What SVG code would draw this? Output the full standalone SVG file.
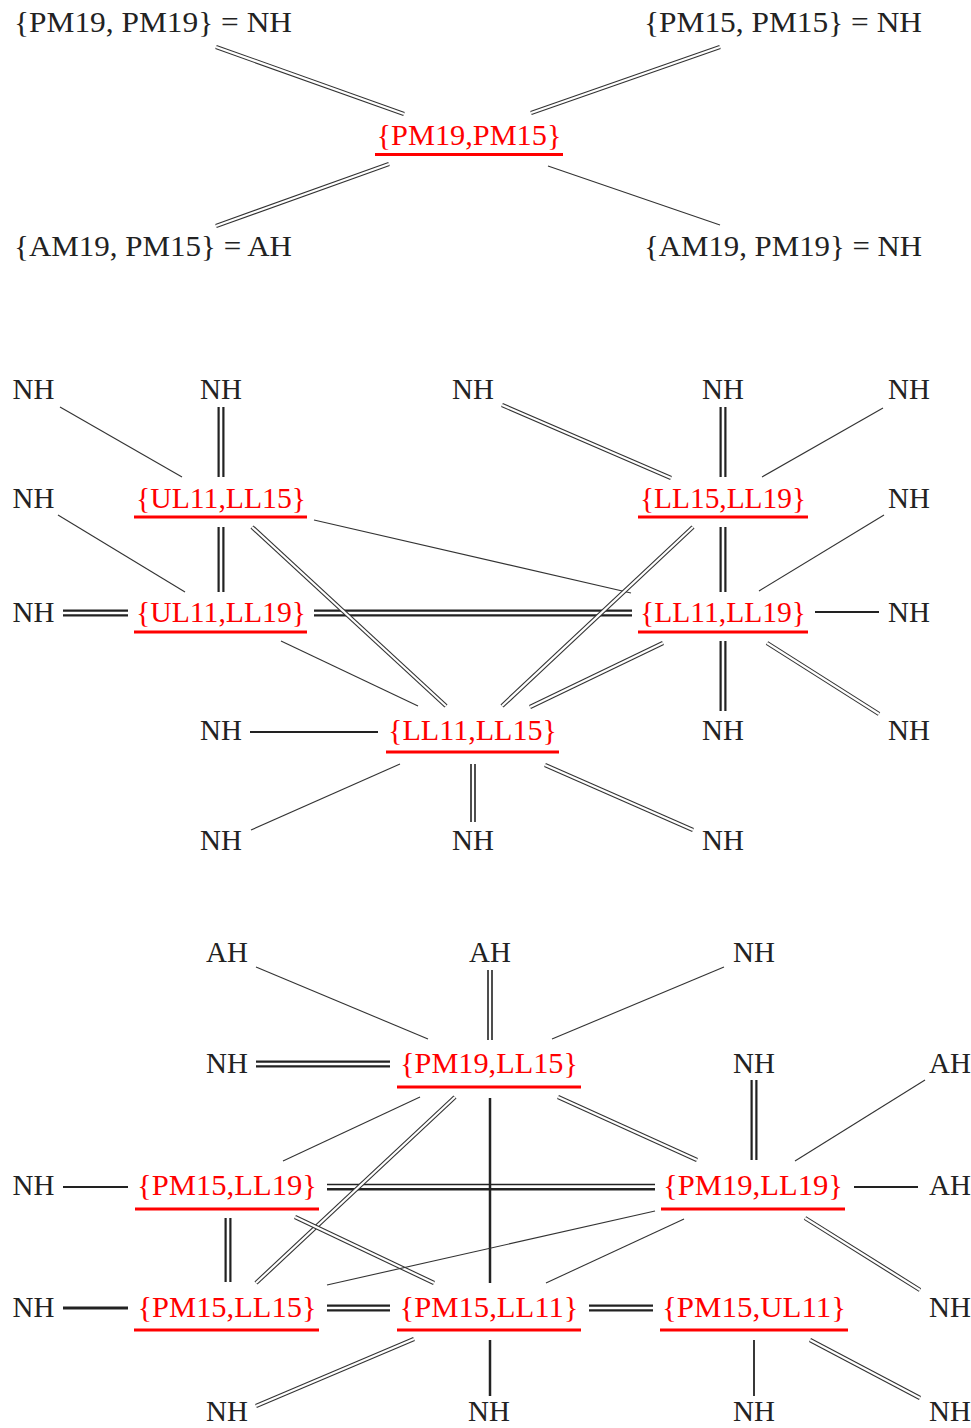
<svg xmlns="http://www.w3.org/2000/svg" width="971" height="1428" viewBox="0 0 971 1428">
<style>
.t{font-family:"Liberation Serif","Times New Roman",serif;font-size:29px;fill:#222;text-anchor:middle}
.r{fill:#f00}
.u{stroke:#f00;stroke-width:3}
.s{stroke:#333;stroke-width:1.1}
.S{stroke:#222;stroke-width:2.2}
.d{stroke:#333;stroke-width:4.4}
.dw{stroke:#fff;stroke-width:2.2}
.D{stroke:#222;stroke-width:7}
.Dw{stroke:#fff;stroke-width:2.6}
.m{stroke:#222;stroke-width:5.6}
.mw{stroke:#fff;stroke-width:2.4}
</style>
<rect width="971" height="1428" fill="#fff"/>
<g id="connectors" fill="none">
<line class="d" x1="216" y1="47" x2="404" y2="114"/><line class="dw" x1="216" y1="47" x2="404" y2="114"/>
<line class="d" x1="720" y1="47" x2="531" y2="113"/><line class="dw" x1="720" y1="47" x2="531" y2="113"/>
<line class="d" x1="389" y1="164" x2="216" y2="226"/><line class="dw" x1="389" y1="164" x2="216" y2="226"/>
<line class="s" x1="548" y1="166" x2="720" y2="225"/>
<line class="s" x1="60" y1="407" x2="182" y2="477"/>
<line class="D" x1="221" y1="407" x2="221" y2="477"/><line class="Dw" x1="221" y1="407" x2="221" y2="477"/>
<line class="d" x1="502" y1="405" x2="671" y2="478"/><line class="dw" x1="502" y1="405" x2="671" y2="478"/>
<line class="D" x1="723" y1="407" x2="723" y2="477"/><line class="Dw" x1="723" y1="407" x2="723" y2="477"/>
<line class="s" x1="883" y1="408" x2="762" y2="477"/>
<line class="s" x1="58" y1="515" x2="185" y2="592"/>
<line class="D" x1="221" y1="527" x2="221" y2="592"/><line class="Dw" x1="221" y1="527" x2="221" y2="592"/>
<line class="s" x1="314" y1="520" x2="631" y2="593"/>
<line class="D" x1="723" y1="527" x2="723" y2="592"/><line class="Dw" x1="723" y1="527" x2="723" y2="592"/>
<line class="s" x1="884" y1="515" x2="759" y2="591"/>
<line class="D" x1="63" y1="613" x2="128" y2="613"/><line class="Dw" x1="63" y1="613" x2="128" y2="613"/>
<line class="D" x1="314" y1="613" x2="632" y2="613"/><line class="Dw" x1="314" y1="613" x2="632" y2="613"/>
<line class="d" x1="252" y1="527" x2="446" y2="706"/><line class="dw" x1="252" y1="527" x2="446" y2="706"/>
<line class="d" x1="693" y1="527" x2="502" y2="706"/><line class="dw" x1="693" y1="527" x2="502" y2="706"/>
<line class="S" x1="815" y1="612" x2="879" y2="612"/>
<line class="s" x1="281" y1="641" x2="418" y2="706"/>
<line class="d" x1="663" y1="643" x2="530" y2="707"/><line class="dw" x1="663" y1="643" x2="530" y2="707"/>
<line class="D" x1="723" y1="641" x2="723" y2="711"/><line class="Dw" x1="723" y1="641" x2="723" y2="711"/>
<line class="d" x1="767" y1="643" x2="879" y2="714"/><line class="dw" x1="767" y1="643" x2="879" y2="714"/>
<line class="S" x1="250" y1="732" x2="378" y2="732"/>
<line class="s" x1="400" y1="764" x2="251" y2="830"/>
<line class="m" x1="473" y1="764" x2="473" y2="822"/><line class="mw" x1="473" y1="764" x2="473" y2="822"/>
<line class="d" x1="545" y1="765" x2="693" y2="830"/><line class="dw" x1="545" y1="765" x2="693" y2="830"/>
<line class="s" x1="256" y1="967" x2="428" y2="1039"/>
<line class="m" x1="490" y1="970" x2="490" y2="1040"/><line class="mw" x1="490" y1="970" x2="490" y2="1040"/>
<line class="s" x1="724" y1="967" x2="552" y2="1039"/>
<line class="D" x1="256" y1="1064" x2="390" y2="1064"/><line class="Dw" x1="256" y1="1064" x2="390" y2="1064"/>
<line class="D" x1="754" y1="1080" x2="754" y2="1160"/><line class="Dw" x1="754" y1="1080" x2="754" y2="1160"/>
<line class="s" x1="925" y1="1080" x2="795" y2="1161"/>
<line class="s" x1="420" y1="1097" x2="283" y2="1161"/>
<line class="d" x1="558" y1="1097" x2="697" y2="1160"/><line class="dw" x1="558" y1="1097" x2="697" y2="1160"/>
<line class="S" x1="63" y1="1187" x2="128" y2="1187"/>
<line stroke="#222" stroke-width="1.5" x1="327" y1="1184.5" x2="655" y2="1184.5"/>
<line stroke="#222" stroke-width="2.6" x1="327" y1="1189.2" x2="655" y2="1189.2"/>
<line class="S" x1="854" y1="1187" x2="918" y2="1187"/>
<line class="d" x1="455" y1="1097" x2="256" y2="1283"/><line class="dw" x1="455" y1="1097" x2="256" y2="1283"/>
<line stroke="#222" stroke-width="2.5" x1="490" y1="1098" x2="490" y2="1283"/>
<line class="D" x1="228" y1="1218" x2="228" y2="1282"/><line class="Dw" x1="228" y1="1218" x2="228" y2="1282"/>
<line class="d" x1="295" y1="1217" x2="434" y2="1283"/><line class="dw" x1="295" y1="1217" x2="434" y2="1283"/>
<line class="s" x1="655" y1="1211" x2="327" y2="1285"/>
<line class="s" x1="684" y1="1219" x2="546" y2="1283"/>
<line class="d" x1="805" y1="1218" x2="920" y2="1290"/><line class="dw" x1="805" y1="1218" x2="920" y2="1290"/>
<line stroke="#222" stroke-width="2.8" x1="63" y1="1308" x2="128" y2="1308"/>
<line class="D" x1="327" y1="1308" x2="390" y2="1308"/><line class="Dw" x1="327" y1="1308" x2="390" y2="1308"/>
<line class="D" x1="589" y1="1308" x2="653" y2="1308"/><line class="Dw" x1="589" y1="1308" x2="653" y2="1308"/>
<line class="d" x1="414" y1="1339" x2="256" y2="1406"/><line class="dw" x1="414" y1="1339" x2="256" y2="1406"/>
<line stroke="#222" stroke-width="2.5" x1="490" y1="1340" x2="490" y2="1396"/>
<line stroke="#222" stroke-width="1.8" x1="754" y1="1340" x2="754" y2="1396"/>
<line class="d" x1="810" y1="1340" x2="920" y2="1398"/><line class="dw" x1="810" y1="1340" x2="920" y2="1398"/>
</g>
<g id="n_pm19pm19"><text class="t" x="153" y="32" textLength="278" lengthAdjust="spacingAndGlyphs">{PM19, PM19} = NH</text></g>
<g id="n_pm15pm15"><text class="t" x="783" y="32" textLength="278" lengthAdjust="spacingAndGlyphs">{PM15, PM15} = NH</text></g>
<g id="n_pm19pm15"><text class="t r" x="469" y="145" textLength="185" lengthAdjust="spacingAndGlyphs">{PM19,PM15}</text><line class="u" x1="375" y1="154.5" x2="563" y2="154.5"/></g>
<g id="n_am19pm15"><text class="t" x="153" y="256" textLength="278" lengthAdjust="spacingAndGlyphs">{AM19, PM15} = AH</text></g>
<g id="n_am19pm19"><text class="t" x="783" y="256" textLength="278" lengthAdjust="spacingAndGlyphs">{AM19, PM19} = NH</text></g>
<g id="n2_1"><text class="t" x="33.5" y="399">NH</text></g>
<g id="n2_2"><text class="t" x="221" y="399">NH</text></g>
<g id="n2_3"><text class="t" x="473" y="399">NH</text></g>
<g id="n2_4"><text class="t" x="723" y="399">NH</text></g>
<g id="n2_5"><text class="t" x="909" y="399">NH</text></g>
<g id="n2_6"><text class="t" x="33.5" y="508">NH</text></g>
<g id="n_ul11ll15"><text class="t r" x="221" y="508" textLength="170" lengthAdjust="spacingAndGlyphs">{UL11,LL15}</text><line class="u" x1="134" y1="517" x2="307" y2="517"/></g>
<g id="n_ll15ll19"><text class="t r" x="723" y="508" textLength="166" lengthAdjust="spacingAndGlyphs">{LL15,LL19}</text><line class="u" x1="638" y1="517" x2="808" y2="517"/></g>
<g id="n2_7"><text class="t" x="909" y="508">NH</text></g>
<g id="n2_8"><text class="t" x="33.5" y="622">NH</text></g>
<g id="n_ul11ll19"><text class="t r" x="221" y="622" textLength="170" lengthAdjust="spacingAndGlyphs">{UL11,LL19}</text><line class="u" x1="134" y1="632" x2="307" y2="632"/></g>
<g id="n_ll11ll19"><text class="t r" x="723" y="622" textLength="166" lengthAdjust="spacingAndGlyphs">{LL11,LL19}</text><line class="u" x1="638" y1="632" x2="808" y2="632"/></g>
<g id="n2_9"><text class="t" x="909" y="622">NH</text></g>
<g id="n2_10"><text class="t" x="221" y="740">NH</text></g>
<g id="n_ll11ll15"><text class="t r" x="472.5" y="740" textLength="169" lengthAdjust="spacingAndGlyphs">{LL11,LL15}</text><line class="u" x1="386" y1="752" x2="559" y2="752"/></g>
<g id="n2_11"><text class="t" x="723" y="740">NH</text></g>
<g id="n2_12"><text class="t" x="909" y="740">NH</text></g>
<g id="n2_13"><text class="t" x="221" y="850">NH</text></g>
<g id="n2_14"><text class="t" x="473" y="850">NH</text></g>
<g id="n2_15"><text class="t" x="723" y="850">NH</text></g>
<g id="n3_1"><text class="t" x="227" y="962">AH</text></g>
<g id="n3_2"><text class="t" x="490" y="962">AH</text></g>
<g id="n3_3"><text class="t" x="754" y="962">NH</text></g>
<g id="n3_4"><text class="t" x="227" y="1073">NH</text></g>
<g id="n_pm19ll15"><text class="t r" x="489" y="1073" textLength="178" lengthAdjust="spacingAndGlyphs">{PM19,LL15}</text><line class="u" x1="397" y1="1087" x2="581" y2="1087"/></g>
<g id="n3_5"><text class="t" x="754" y="1073">NH</text></g>
<g id="n3_6"><text class="t" x="950" y="1073">AH</text></g>
<g id="n3_7"><text class="t" x="33.5" y="1195">NH</text></g>
<g id="n_pm15ll19"><text class="t r" x="227" y="1195" textLength="180" lengthAdjust="spacingAndGlyphs">{PM15,LL19}</text><line class="u" x1="135" y1="1209" x2="319" y2="1209"/></g>
<g id="n_pm19ll19"><text class="t r" x="753" y="1195" textLength="180" lengthAdjust="spacingAndGlyphs">{PM19,LL19}</text><line class="u" x1="661" y1="1209" x2="845" y2="1209"/></g>
<g id="n3_8"><text class="t" x="950" y="1195">AH</text></g>
<g id="n3_9"><text class="t" x="33.5" y="1317">NH</text></g>
<g id="n_pm15ll15"><text class="t r" x="227" y="1317" textLength="179" lengthAdjust="spacingAndGlyphs">{PM15,LL15}</text><line class="u" x1="134" y1="1330" x2="319" y2="1330"/></g>
<g id="n_pm15ll11"><text class="t r" x="489" y="1317" textLength="179" lengthAdjust="spacingAndGlyphs">{PM15,LL11}</text><line class="u" x1="397" y1="1330" x2="581" y2="1330"/></g>
<g id="n_pm15ul11"><text class="t r" x="754" y="1317" textLength="184" lengthAdjust="spacingAndGlyphs">{PM15,UL11}</text><line class="u" x1="660" y1="1330" x2="848" y2="1330"/></g>
<g id="n3_10"><text class="t" x="950" y="1317">NH</text></g>
<g id="n3_11"><text class="t" x="227" y="1421">NH</text></g>
<g id="n3_12"><text class="t" x="489" y="1421">NH</text></g>
<g id="n3_13"><text class="t" x="754" y="1421">NH</text></g>
<g id="n3_14"><text class="t" x="950" y="1421">NH</text></g>
</svg>
